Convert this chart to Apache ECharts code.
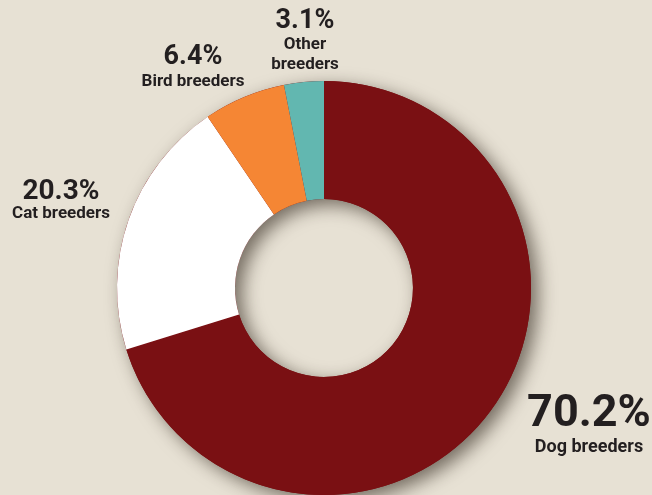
<!DOCTYPE html>
<html>
<head>
<meta charset="utf-8">
<script src="https://cdn.jsdelivr.net/npm/echarts@6/dist/echarts.min.js"></script>
<style>
  html, body { margin: 0; padding: 0; background: #e7e1d4; }
  #chart { width: 652px; height: 495px; }
</style>
</head>
<body>
<div id="chart"></div>
<script>
// data
const categories = ["Dog breeders", "Cat breeders", "Bird breeders", "Other breeders"];
const shares = [70.2, 20.3, 6.4, 3.1];

// styles / label placement
const colors = ["#7a1013", "#ffffff", "#f58634", "#62b7b0"];
const pctSize = [45, 28, 27, 27];
const pctLine = [47, 27, 31, 27];
const nameSize = [18, 17, 17, 17];
const nameLine = [18, 17, 17, 20];
const labelPos = [[589, 391], [61, 178], [193, 42], [305, 8]];

const font = "Roboto, sans-serif";

let myChart = echarts.init(document.getElementById("chart"));

const pieData = categories.map((name, i) => ({
  name: name,
  value: shares[i],
  itemStyle: { color: colors[i] },
  label: {
    rich: {
      p: { fontFamily: font, fontWeight: "bold", fontSize: pctSize[i], lineHeight: pctLine[i], color: "#231f20", align: "center" },
      n: { fontFamily: font, fontWeight: "bold", fontSize: nameSize[i], lineHeight: nameLine[i], color: "#231f20", align: "center" },
    },
  },
}));

myChart.setOption({
  backgroundColor: "#e7e1d4",
  animation: false,
  series: [
    // shadow ring underneath
    {
      type: "pie",
      silent: true,
      center: [324, 288],
      radius: [89, 207],
      label: { show: false },
      labelLine: { show: false },
      itemStyle: {
        color: "#7a1013",
        shadowColor: "rgba(40,30,20,0.6)",
        shadowBlur: 18,
        shadowOffsetX: 7,
        shadowOffsetY: 6,
      },
      data: [{ value: 1, name: "shadow" }],
    },
    {
      type: "pie",
      center: [324, 288],
      radius: [89, 207],
      startAngle: 90,
      clockwise: true,
      avoidLabelOverlap: false,
      itemStyle: { borderWidth: 0 },
      label: {
        show: true,
        position: "outside",
        formatter: (p) => {
          const nm = p.name === "Other breeders" ? "Other\nbreeders" : p.name;
          return "{p|" + p.value + "%}\n{n|" + nm + "}";
        },
      },
      labelLine: { show: false },
      labelLayout: (params) => ({
        x: labelPos[params.dataIndex][0],
        y: labelPos[params.dataIndex][1],
        align: "center",
        verticalAlign: "top",
      }),
      data: pieData,
    },
  ],
});

window.addEventListener("resize", () => {
  myChart.resize();
});
</script>
</body>
</html>
